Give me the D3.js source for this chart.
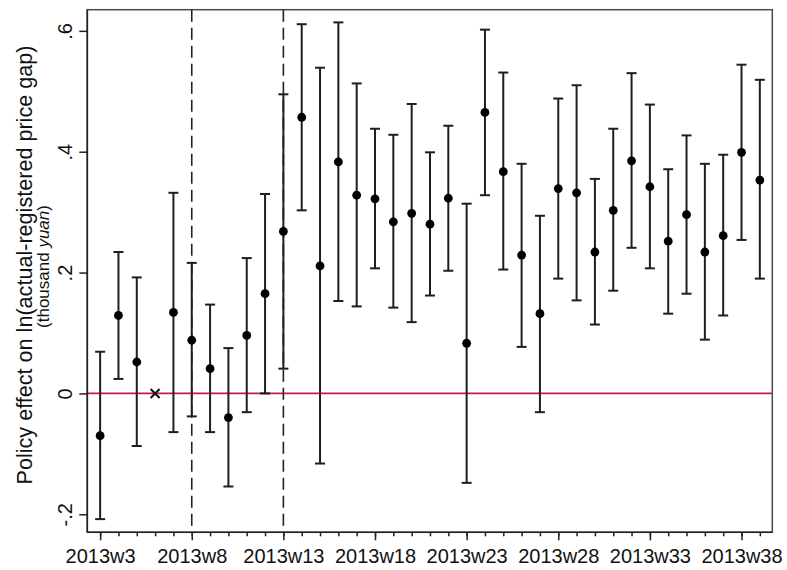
<!DOCTYPE html>
<html>
<head>
<meta charset="utf-8">
<script src="https://cdn.jsdelivr.net/npm/d3@7"></script>
<style>
  html, body { margin: 0; padding: 0; background: #fff; }
  svg { display: block; font-family: "Liberation Sans", Arial, sans-serif; }
</style>
</head>
<body>
<svg id="chart" width="787" height="570"></svg>
<script>
// Weekly policy-effect estimates with 95% confidence intervals (2013w6 is the reference week)
const weeks    = [3, 4, 5, 7, 8, 9, 10, 11, 12, 13, 14, 15, 16, 17, 18, 19, 20, 21, 22, 23, 24, 25, 26, 27, 28, 29, 30, 31, 32, 33, 34, 35, 36, 37, 38, 39];
const estimate = [-0.070, 0.129, 0.052, 0.134, 0.088, 0.041, -0.040, 0.096, 0.165, 0.268, 0.457, 0.211, 0.383, 0.328, 0.322, 0.284, 0.298, 0.280, 0.323, 0.083, 0.465, 0.367, 0.229, 0.132, 0.339, 0.332, 0.234, 0.303, 0.385, 0.342, 0.252, 0.296, 0.234, 0.261, 0.399, 0.353];
const ciLower  = [-0.208, 0.024, -0.087, -0.064, -0.038, -0.064, -0.154, -0.031, 0.000, 0.041, 0.303, -0.116, 0.153, 0.144, 0.207, 0.142, 0.118, 0.162, 0.203, -0.148, 0.328, 0.205, 0.077, -0.031, 0.190, 0.154, 0.114, 0.170, 0.241, 0.207, 0.132, 0.165, 0.089, 0.129, 0.254, 0.190];
const ciUpper  = [0.069, 0.234, 0.192, 0.332, 0.216, 0.147, 0.075, 0.224, 0.330, 0.495, 0.611, 0.539, 0.614, 0.513, 0.438, 0.428, 0.479, 0.399, 0.443, 0.314, 0.602, 0.531, 0.380, 0.294, 0.488, 0.510, 0.355, 0.438, 0.530, 0.478, 0.371, 0.427, 0.380, 0.395, 0.544, 0.519];
const referenceWeek = 6;
const eventWeeks = [8, 13];
const xMajorTicks = [3, 8, 13, 18, 23, 28, 33, 38];
const xMinorTicks = d3.range(3, 40);
const yTicks = [-0.2, 0, 0.2, 0.4, 0.6];
const yTickLabels = ["-.2", "0", ".2", ".4", ".6"];
const yTitle1 = "Policy effect on ln(actual-registered price gap)";

const data = weeks.map((w, i) => ({ week: w, est: estimate[i], lo: ciLower[i], hi: ciUpper[i] }));

const svg = d3.select("#chart");
const plot = { left: 87.3, right: 772.3, top: 9.7, bottom: 532.3 };

const x = d3.scaleLinear().domain([2.3, 39.68]).range([plot.left, plot.right]);
const y = d3.scaleLinear().domain([-0.2298, 0.635]).range([plot.bottom, plot.top]);

// Frame
svg.append("rect")
  .attr("x", plot.left).attr("y", plot.top)
  .attr("width", plot.right - plot.left).attr("height", plot.bottom - plot.top)
  .attr("fill", "none").attr("stroke", "#4a4a4a").attr("stroke-width", 1.5);

// Zero reference line
svg.append("line")
  .attr("x1", plot.left).attr("x2", plot.right)
  .attr("y1", y(0)).attr("y2", y(0))
  .attr("stroke", "#c41a48").attr("stroke-width", 1.8);

// Event weeks (dashed verticals)
svg.selectAll("line.event").data(eventWeeks).enter().append("line")
  .attr("class", "event")
  .attr("x1", d => x(d)).attr("x2", d => x(d))
  .attr("y1", plot.top).attr("y2", plot.bottom)
  .attr("stroke", "#222").attr("stroke-width", 1.6)
  .attr("stroke-dasharray", "12,6");

// X axis: minor ticks every week, labelled major ticks
const xAxisMinor = d3.axisBottom(x).tickValues(xMinorTicks).tickSize(4).tickFormat("");
const xAxisMajor = d3.axisBottom(x).tickValues(xMajorTicks).tickSize(8).tickPadding(9)
  .tickFormat(d => "2013w" + d);

const gxMinor = svg.append("g").attr("transform", `translate(0,${plot.bottom})`).call(xAxisMinor);
const gxMajor = svg.append("g").attr("transform", `translate(0,${plot.bottom})`).call(xAxisMajor);
[gxMinor, gxMajor].forEach(g => {
  g.select(".domain").remove();
  g.selectAll(".tick line").attr("stroke", "#222").attr("stroke-width", 1.5);
});
gxMajor.selectAll(".tick text")
  .attr("fill", "#111").style("font-size", "20px")
  .style("font-family", "'Liberation Sans', Arial, sans-serif");

// Y axis with rotated labels
const yAxis = d3.axisLeft(y).tickValues(yTicks).tickSize(8)
  .tickFormat((d, i) => yTickLabels[i]);
const gy = svg.append("g").attr("transform", `translate(${plot.left},0)`).call(yAxis);
gy.select(".domain").remove();
gy.selectAll(".tick line").attr("stroke", "#222").attr("stroke-width", 1.5);
gy.selectAll(".tick text")
  .attr("x", null).attr("dy", null)
  .attr("text-anchor", "middle")
  .attr("transform", "translate(-15,0) rotate(-90)")
  .attr("fill", "#111").style("font-size", "20px")
  .style("font-family", "'Liberation Sans', Arial, sans-serif");

// Axis lines (left and bottom) drawn darker over the frame
svg.append("line").attr("x1", plot.left).attr("x2", plot.left)
  .attr("y1", plot.top).attr("y2", plot.bottom).attr("stroke", "#222").attr("stroke-width", 1.6);
svg.append("line").attr("x1", plot.left).attr("x2", plot.right)
  .attr("y1", plot.bottom).attr("y2", plot.bottom).attr("stroke", "#222").attr("stroke-width", 1.6);

// Y title (two lines, rotated)
const cyTitle = 265;
svg.append("text")
  .attr("transform", `translate(31.5,${cyTitle}) rotate(-90)`)
  .attr("text-anchor", "middle")
  .style("font-size", "21.6px").attr("fill", "#111")
  .text(yTitle1);
const t2 = svg.append("text")
  .attr("transform", `translate(48.5,${cyTitle + 1.5}) rotate(-90)`)
  .attr("text-anchor", "middle")
  .style("font-size", "17px").attr("fill", "#111");
t2.append("tspan").text("(thousand ");
t2.append("tspan").style("font-style", "italic").text("yuan");
t2.append("tspan").text(")");

// Confidence intervals
const capHalf = 5;
const bars = svg.append("g").attr("stroke", "#1e1e1e").attr("stroke-width", 2);
bars.selectAll("line.ci").data(data).enter().append("line")
  .attr("x1", d => x(d.week)).attr("x2", d => x(d.week))
  .attr("y1", d => y(d.lo)).attr("y2", d => y(d.hi));
bars.selectAll("line.capHi").data(data).enter().append("line")
  .attr("x1", d => x(d.week) - capHalf).attr("x2", d => x(d.week) + capHalf)
  .attr("y1", d => y(d.hi)).attr("y2", d => y(d.hi));
bars.selectAll("line.capLo").data(data).enter().append("line")
  .attr("x1", d => x(d.week) - capHalf).attr("x2", d => x(d.week) + capHalf)
  .attr("y1", d => y(d.lo)).attr("y2", d => y(d.lo));

// Point estimates
svg.append("g").selectAll("circle").data(data).enter().append("circle")
  .attr("cx", d => x(d.week)).attr("cy", d => y(d.est)).attr("r", 4.4)
  .attr("fill", "#000");

// Reference week marker
const rx = x(referenceWeek), ry = y(0), s = 4.5;
svg.append("path")
  .attr("d", `M${rx - s},${ry - s}L${rx + s},${ry + s}M${rx - s},${ry + s}L${rx + s},${ry - s}`)
  .attr("stroke", "#111").attr("stroke-width", 2).attr("fill", "none");
</script>
</body>
</html>
